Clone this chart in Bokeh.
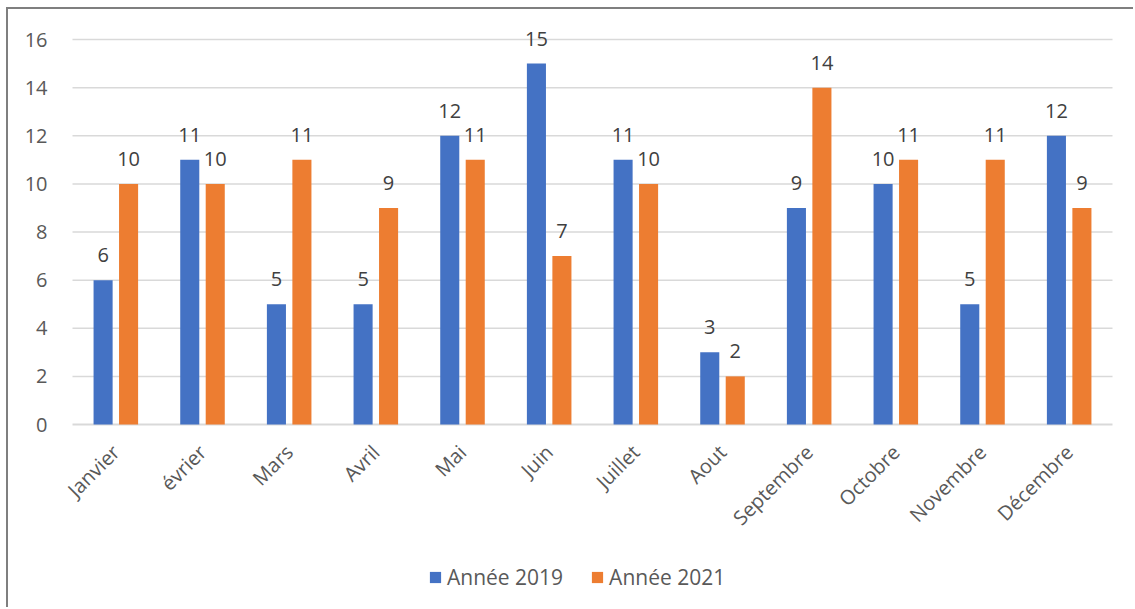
from bokeh.plotting import figure
from bokeh.models import ColumnDataSource, Legend, LegendItem, LabelSet, FixedTicker
from bokeh.core.properties import value
from bokeh.transform import dodge
from bokeh.embed import file_html
from bokeh.resources import INLINE
import math

months = ["Janvier", "évrier", "Mars", "Avril", "Mai", "Juin", "Juillet", "Aout",
          "Septembre", "Octobre", "Novembre", "Décembre"]
annee_2019 = [6, 11, 5, 5, 12, 15, 11, 3, 9, 10, 5, 12]
annee_2021 = [10, 10, 11, 9, 11, 7, 10, 2, 14, 11, 11, 9]
y_ticks = [0, 2, 4, 6, 8, 10, 12, 14, 16]

FONT = "Open Sans"
FS = "20px"
BLUE = "#4472C4"
ORANGE = "#ED7D31"
GRID = "#D9D9D9"

src = ColumnDataSource(dict(m=months, a=annee_2019, b=annee_2021,
                            la=[str(v) for v in annee_2019],
                            lb=[str(v) for v in annee_2021]))

# Layout (canvas px): plot area 64..1104 wide, 16 at y=30, 0 at y=415.
# The frame is made larger than the plot area so labels are not clipped;
# gridlines are drawn as segments limited to the plot area.
W, H = 1127, 600
TOP, BOT = 2, 2
PLOT_TOP, Y0_PX = 30, 415
EXT = 12                       # extra frame on the left and right (px)
ppu = (Y0_PX - PLOT_TOP) / 16.0
ymin = -(H - BOT - Y0_PX) / ppu
ymax = 16 + (PLOT_TOP - TOP) / ppu
cat_px = (1104 - 64) / 12.0
pad = EXT / cat_px

p = figure(x_range=months, y_range=(ymin, ymax), width=W, height=H,
           output_backend="svg", toolbar_location=None,
           min_border_left=64 - EXT, min_border_right=23 - EXT,
           min_border_top=TOP, min_border_bottom=BOT)
p.x_range.range_padding = pad
p.x_range.range_padding_units = "absolute"
p.styles = {"margin-left": "6px", "margin-top": "7px",
            "border-top": "2px solid #7F7F7F", "border-left": "2px solid #7F7F7F"}

p.outline_line_color = None
p.xgrid.grid_line_color = None
p.ygrid.grid_line_color = None
p.yaxis.ticker = FixedTicker(ticks=y_ticks)

grid_src = ColumnDataSource(dict(x0=[months[0]] * len(y_ticks),
                                 x1=[months[-1]] * len(y_ticks),
                                 y=y_ticks,
                                 w=[2.0 if t == 0 else 1.5 for t in y_ticks]))
p.segment(x0=dodge("x0", -0.5, range=p.x_range), x1=dodge("x1", 0.5, range=p.x_range),
          y0="y", y1="y", line_width="w", line_color=GRID, source=grid_src)

r1 = p.vbar(x=dodge("m", -0.147, range=p.x_range), top="a", width=0.22, source=src,
            fill_color=BLUE, line_color=None)
r2 = p.vbar(x=dodge("m", 0.147, range=p.x_range), top="b", width=0.22, source=src,
            fill_color=ORANGE, line_color=None)

for col, lab, off in (("a", "la", -0.147), ("b", "lb", 0.147)):
    ls = LabelSet(x=dodge("m", off, range=p.x_range), y=col, text=lab, source=src,
                  text_align="center", text_baseline="bottom", y_offset=18,
                  text_font=value(FONT), text_font_size=FS, text_color="#404040")
    p.add_layout(ls)

for ax in (p.xaxis, p.yaxis):
    ax.major_tick_line_color = None
    ax.minor_tick_line_color = None
    ax.axis_line_color = None
    ax.major_label_text_font = FONT
    ax.major_label_text_font_size = FS
    ax.major_label_text_color = "#595959"
p.yaxis.major_label_standoff = 19 - EXT
p.xaxis.fixed_location = 0
p.xaxis.major_label_orientation = math.pi / 4
p.xaxis.major_label_standoff = 18

legend = Legend(items=[LegendItem(label="Année 2019", renderers=[r1]),
                       LegendItem(label="Année 2021", renderers=[r2])],
                orientation="horizontal", location=(356 + EXT, 16),
                label_text_font=FONT, label_text_font_size="21px",
                label_text_color="#595959", glyph_width=14, glyph_height=14,
                spacing=27, label_standoff=5, border_line_color=None,
                background_fill_alpha=0)
p.add_layout(legend)

open("out.html", "w").write(file_html(p, INLINE))
